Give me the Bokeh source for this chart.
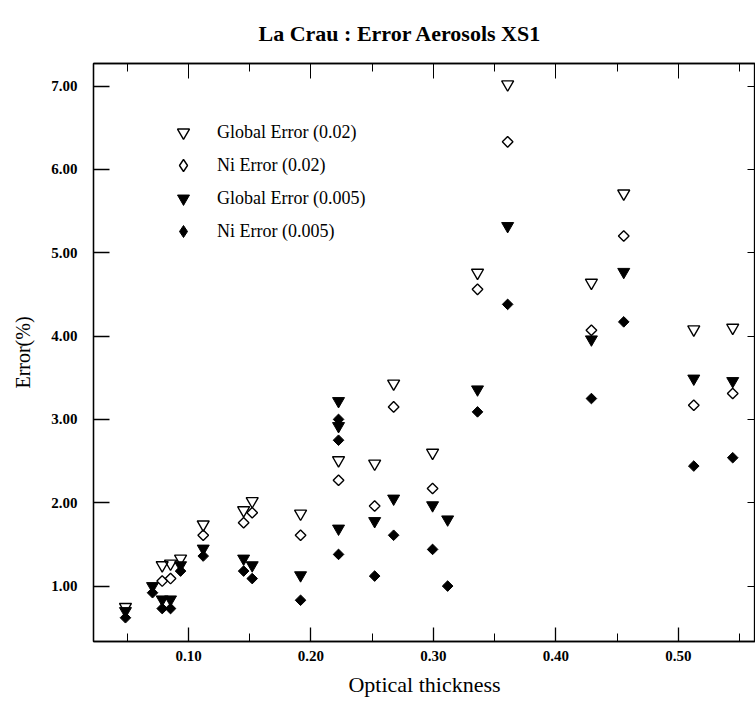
import math
from bokeh.plotting import figure
from bokeh.models import (Range1d, LinearAxis, FixedTicker, NumeralTickFormatter,
                          Legend, LegendItem)
from bokeh.embed import file_html
from bokeh.resources import INLINE

# ---- data ----
x_ticks = [0.10, 0.20, 0.30, 0.40, 0.50]
x_minor = [0.05, 0.15, 0.25, 0.35, 0.45, 0.55]
y_ticks = [1, 2, 3, 4, 5, 6, 7]

glob02_x = [0.0485, 0.0785, 0.0853, 0.0935, 0.112, 0.145, 0.152, 0.1915, 0.2225,
            0.252, 0.2675, 0.2993, 0.336, 0.3606, 0.429, 0.4554, 0.5126, 0.5444]
glob02_y = [0.75, 1.25, 1.27, 1.33, 1.74, 1.91, 2.02, 1.87, 2.51,
            2.47, 3.43, 2.60, 4.76, 7.02, 4.64, 5.71, 4.08, 4.10]

ni02_x = [0.0785, 0.0853, 0.112, 0.145, 0.152, 0.1915, 0.2225,
          0.252, 0.2675, 0.2993, 0.336, 0.3606, 0.429, 0.4554, 0.5126, 0.5444]
ni02_y = [1.06, 1.09, 1.61, 1.76, 1.88, 1.61, 2.27,
          1.96, 3.15, 2.17, 4.56, 6.33, 4.07, 5.20, 3.17, 3.31]

glob005_x = [0.0485, 0.0706, 0.0785, 0.0853, 0.0935, 0.112, 0.145, 0.152, 0.1915,
             0.2225, 0.2225, 0.2225, 0.252, 0.2675, 0.2993, 0.3116, 0.336, 0.3606,
             0.429, 0.4554, 0.5126, 0.5444]
glob005_y = [0.70, 1.00, 0.84, 0.84, 1.25, 1.45, 1.33, 1.25, 1.13,
             1.69, 2.92, 3.22, 1.78, 2.05, 1.97, 1.80, 3.36, 5.32,
             3.96, 4.77, 3.49, 3.46]

ni005_x = [0.0485, 0.0706, 0.0785, 0.0853, 0.0935, 0.112, 0.145, 0.152, 0.1915,
           0.2225, 0.2225, 0.2225, 0.252, 0.2675, 0.2993, 0.3116, 0.336, 0.3606,
           0.429, 0.4554, 0.5126, 0.5444]
ni005_y = [0.62, 0.92, 0.73, 0.73, 1.18, 1.36, 1.18, 1.09, 0.83,
           1.38, 2.75, 3.00, 1.12, 1.61, 1.44, 1.00, 3.09, 4.38,
           3.25, 4.17, 2.44, 2.54]

labels = ["Global Error (0.02)", "Ni Error (0.02)", "Global Error (0.005)", "Ni Error (0.005)"]

FONT = "Liberation Serif"

p = figure(width=755, height=707, output_backend="svg", toolbar_location=None,
           x_range=Range1d(0.0224, 0.563), y_range=Range1d(0.335, 7.27),
           min_border_left=93, min_border_right=0, min_border_top=63, min_border_bottom=66)

p.title.text = "La Crau : Error Aerosols XS1"
p.title.text_font = FONT
p.title.text_font_style = "bold"
p.title.text_font_size = "22px"
p.title.text_color = "black"
p.title.align = "left"
p.title.offset = 165
p.title.standoff = 36

p.xgrid.visible = False
p.ygrid.visible = False
p.outline_line_color = "black"
p.outline_line_width = 1.3
p.background_fill_color = "white"
p.border_fill_color = "white"

xa = p.xaxis[0]
xa.ticker = FixedTicker(ticks=x_ticks, minor_ticks=x_minor)
xa.formatter = NumeralTickFormatter(format="0.00")
xa.major_tick_in = 14
xa.major_tick_out = 0
xa.minor_tick_in = 8
xa.minor_tick_out = 0
xa.axis_line_color = "black"
xa.axis_line_width = 1.3
xa.major_tick_line_color = "black"
xa.minor_tick_line_color = "black"
xa.major_tick_line_width = 1.3
xa.major_label_standoff = 9
xa.major_label_text_font = FONT
xa.major_label_text_font_size = "15px"
xa.major_label_text_font_style = "bold"
xa.major_label_text_color = "black"
xa.axis_label = "Optical thickness"
xa.axis_label_text_font = FONT
xa.axis_label_text_font_size = "22px"
xa.axis_label_text_font_style = "normal"
xa.axis_label_text_color = "black"
xa.axis_label_standoff = 8

ya = p.yaxis[0]
ya.ticker = FixedTicker(ticks=y_ticks, minor_ticks=[])
ya.formatter = NumeralTickFormatter(format="0.00")
ya.major_tick_in = 16
ya.major_tick_out = 0
ya.minor_tick_in = 0
ya.minor_tick_out = 0
ya.axis_line_color = "black"
ya.axis_line_width = 1.3
ya.major_tick_line_color = "black"
ya.major_tick_line_width = 1.3
ya.major_label_standoff = 16
ya.major_label_text_font = FONT
ya.major_label_text_font_size = "15px"
ya.major_label_text_font_style = "bold"
ya.major_label_text_color = "black"
ya.axis_label = "Error(%)"
ya.axis_label_text_font = FONT
ya.axis_label_text_font_size = "20px"
ya.axis_label_text_font_style = "normal"
ya.axis_label_text_color = "black"
ya.axis_label_standoff = 14

top = LinearAxis(ticker=FixedTicker(ticks=x_ticks, minor_ticks=x_minor),
                 major_label_text_font_size="1px", major_label_text_color=None,
                 major_label_text_alpha=0, major_label_standoff=0,
                 axis_line_color="black", axis_line_width=1.3,
                 major_tick_line_color="black", minor_tick_line_color="black",
                 major_tick_in=15, major_tick_out=0, minor_tick_in=8, minor_tick_out=0)
p.add_layout(top, "above")
right = LinearAxis(ticker=FixedTicker(ticks=y_ticks, minor_ticks=[]),
                   major_label_text_font_size="1px", major_label_text_color=None,
                   major_label_text_alpha=0, major_label_standoff=0,
                   axis_line_color="black", axis_line_width=1.3,
                   major_tick_line_color="black",
                   major_tick_in=8, major_tick_out=0, minor_tick_in=0, minor_tick_out=0)
p.add_layout(right, "right")

DIAMOND = math.pi / 4
r1 = p.scatter(glob02_x, glob02_y, marker="inverted_triangle", size=12,
               line_color="black", line_width=1.4, fill_alpha=0)
r2 = p.scatter(ni02_x, ni02_y, marker="square", angle=DIAMOND, size=7.5,
               line_color="black", line_width=1.4, fill_alpha=0)
r3 = p.scatter(glob005_x, glob005_y, marker="inverted_triangle", size=12,
               line_color="black", fill_color="black")
r4 = p.scatter(ni005_x, ni005_y, marker="square", angle=DIAMOND, size=7.5,
               line_color="black", fill_color="black")

# legend keys for the diamond series (legend glyphs ignore marker angle);
# these renderers are hidden in the plot and only supply the legend symbol
k2 = p.scatter(ni02_x, ni02_y, marker="diamond", size=12, visible=False,
               line_color="black", line_width=1.4, fill_alpha=0)
k4 = p.scatter(ni005_x, ni005_y, marker="diamond", size=12, visible=False,
               line_color="black", fill_color="black")

legend = Legend(items=[LegendItem(label=labels[0], renderers=[r1]),
                       LegendItem(label=labels[1], renderers=[k2]),
                       LegendItem(label=labels[2], renderers=[r3]),
                       LegendItem(label=labels[3], renderers=[k4])],
                location=(75, 395), glyph_width=30, glyph_height=30, label_height=30,
                spacing=3, label_standoff=19, padding=0, margin=0,
                border_line_alpha=0, background_fill_alpha=0,
                inactive_fill_alpha=0,
                label_text_font=FONT, label_text_font_size="18px",
                label_text_color="black")
p.add_layout(legend)

open("out.html", "w").write(file_html(p, INLINE))
